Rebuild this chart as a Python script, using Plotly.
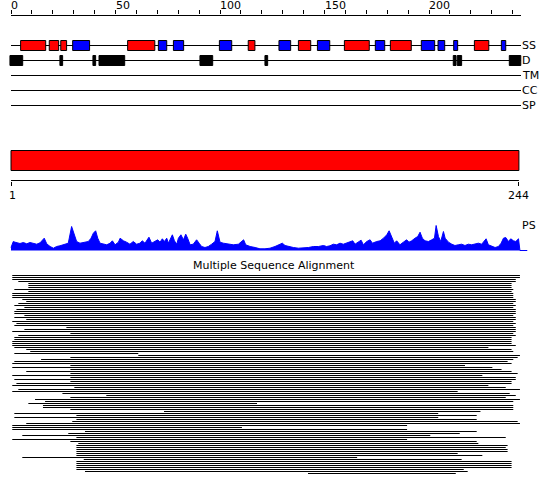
import plotly.graph_objects as go

# ---------------- data ----------------
seq_len = 244
top_tick_vals = list(range(0, 241, 10))
top_label_vals = [0, 50, 100, 150, 200]
bottom_tick_vals = [1, 244]
domain_start, domain_end = 1, 244

track_names = ["SS", "D", "TM", "CC", "SP"]

ss_type = ["H", "H", "H", "E", "H", "E", "E", "E", "H", "E",
           "H", "E", "H", "E", "H", "E", "E", "E", "H", "E"]
ss_start = [4.6, 18.3, 23.8, 29.5, 55.8, 70.5, 77.7, 99.7, 113.5, 128.2,
            137.5, 146.6, 159.5, 174.3, 181.5, 196.3, 204.3, 211.8, 221.7, 234.6]
ss_end = [16.6, 22.8, 26.6, 37.6, 68.8, 74.5, 82.6, 105.6, 116.7, 133.8,
          143.4, 152.5, 171.4, 178.8, 191.5, 202.7, 207.5, 213.7, 228.6, 236.7]

dis_start = [-0.5, 23.4, 39.2, 42.1, 90.4, 121.5, 211.6, 213.5, 238.4]
dis_end = [5.6, 24.7, 40.5, 54.4, 96.5, 122.8, 212.9, 215.6, 243.9]

ps_pos = [0.0, 1.1, 1.9, 4.3, 5.9, 7.5, 9.1, 10.7, 12.3, 13.9, 15.9, 17.1, 18.7, 20.3, 21.8,
          23.4, 25.0, 26.6, 27.4, 29.0, 30.6, 31.4, 33.0, 35.4, 37.0, 38.3, 39.4, 40.5, 41.5,
          42.6, 44.2, 45.8, 47.4, 48.5, 49.8, 51.4, 52.2, 53.8, 55.3, 56.9, 58.5, 60.1, 61.7,
          62.8, 64.1, 66.0, 67.3, 68.9, 70.2, 71.3, 72.4, 73.4, 74.5, 75.3, 76.1, 77.2, 78.2,
          79.3, 80.1, 81.3, 82.5, 83.6, 84.5, 85.7, 87.2, 88.8, 90.0, 91.2, 92.8, 94.4, 96.0,
          97.6, 98.7, 100.0, 101.6, 104.0, 106.4, 108.8, 110.4, 111.3, 112.3, 114.4, 116.8,
          119.1, 121.5, 123.9, 126.3, 128.2, 129.8, 131.1, 132.7, 135.1, 137.5, 139.9, 142.3,
          144.7, 147.1, 149.5, 151.0, 152.6, 154.2, 155.8, 157.4, 159.0, 160.6, 162.2, 163.5,
          164.6, 166.2, 167.5, 168.6, 170.2, 171.8, 172.9, 175.0, 176.6, 178.2, 179.8, 180.9,
          182.2, 183.4, 184.5, 186.1, 187.7, 189.3, 190.4, 191.7, 193.3, 194.6, 195.7, 196.8,
          198.1, 199.7, 201.3, 202.6, 203.4, 204.5, 205.6, 206.9, 207.7, 209.3, 210.9, 212.4,
          214.0, 215.6, 217.2, 218.8, 220.4, 222.0, 223.6, 225.2, 227.3, 228.4, 230.0, 231.6,
          233.2, 234.5, 235.6, 236.7, 238.0, 239.1, 240.4, 241.5, 242.8, 243.5, 247.0]
ps_val = [3.0, 9.0, 8.3, 7.0, 8.0, 6.7, 8.0, 7.0, 6.3, 7.7, 12.3, 6.7, 4.0, 2.3, 4.0,
          4.7, 5.7, 7.3, 7.3, 24.0, 14.0, 9.0, 7.3, 8.3, 9.0, 12.3, 17.3, 19.7, 12.3,
          7.3, 6.3, 5.7, 7.3, 9.7, 5.7, 8.3, 12.3, 9.7, 8.3, 6.3, 9.0, 6.3, 7.3,
          9.7, 7.3, 13.3, 7.3, 9.0, 10.7, 8.3, 11.7, 9.0, 12.3, 7.3, 10.7, 15.7, 9.7,
          6.3, 12.3, 15.7, 10.7, 16.3, 12.3, 5.7, 6.3, 10.7, 7.3, 4.0, 3.0, 4.0, 6.3,
          9.0, 19.7, 8.3, 7.3, 6.3, 5.7, 6.3, 9.0, 10.7, 5.7, 4.0, 3.0,
          1.7, 1.7, 2.3, 4.0, 5.7, 7.3, 5.0, 4.0, 3.0, 2.3, 2.3, 3.0,
          4.0, 4.0, 5.0, 4.0, 4.7, 6.3, 5.7, 7.3, 6.3, 7.3, 9.0, 9.7,
          6.3, 9.0, 10.3, 5.7, 9.0, 10.7, 7.3, 9.0, 9.7, 12.3, 15.7, 19.7,
          12.3, 7.3, 9.7, 5.7, 8.3, 10.7, 8.3, 9.7, 12.3, 14.0, 18.3, 12.3,
          9.7, 9.0, 10.7, 12.3, 25.0, 14.0, 9.0, 19.0, 12.3, 8.3, 6.3, 5.0,
          5.7, 6.3, 5.0, 6.3, 5.7, 6.3, 7.3, 6.3, 11.7, 5.7, 4.0, 3.0,
          4.0, 7.3, 12.3, 13.0, 9.0, 11.7, 9.7, 9.0, 11.7, 0.0, 0.0]

msa_start = [0.6, 0.6, 0.6, 3.5, 8.3, 8.3, 8.3, 1.6, 8.3, 0.6,
             0.6, 0.6, 5.4, 7.3, 3.5, 1.6, 6.4, 2.6, 1.6, 1.6,
             6.4, 1.6, 7.3, 0.6, 2.6, 1.6, 26.5, 6.4, 0.6, 28.4,
             3.5, 1.6, 1.6, 0.6, 0.6, 0.6, 1.6, 7.3, 9.2, 1.6,
             60.9, 28.4, 14.4, 1.6, 0.6, 28.4, 0.6, 28.4, 7.3,
             28.4, 0.6, 28.4, 1.6, 28.4, 2.6, 0.6, 30.3, 3.5, 0.6,
             24.6, 45.6, 28.4, 11.5, 16.3, 8.3, 15.3, 15.3, 28.4, 73.2,
             1.6, 31.3, 1.6, 31.3, 29.3, 7.3, 0.6, 0.6, 0.6, 35.4,
             27.4, 5.4, 31.3, 0.6, 28.4, 32.2, 31.3, 31.3, 31.3, 31.3,
             31.3, 31.3, 5.4, 34.8, 31.3, 31.3, 31.3, 31.3, 31.3, 35.4,
             142.1]
msa_end = [243.5, 243.5, 241.5, 241.5, 239.5, 239.5, 239.5, 240.3, 239.5, 240.3,
           240.3, 240.3, 241.5, 241.5, 240.3, 241.5, 240.3, 241.5, 241.5, 241.5,
           240.3, 241.5, 241.5, 240.3, 241.5, 240.3, 241.5, 241.5, 241.5, 240.3,
           241.5, 239.5, 239.5, 239.5, 239.5, 241.5, 228.4, 239.5, 240.3, 60.9,
           243.5, 242.4, 240.3, 237.6, 239.5, 217.2, 230.3, 234.7, 239.5,
           242.4, 225.5, 241.5, 241.5, 239.5, 239.5, 228.4, 236.7, 243.5, 213.7,
           238.6, 241.5, 236.7, 243.5, 240.3, 117.7, 240.3, 240.3, 240.3, 224.6,
           204.4, 222.8, 204.4, 222.8, 242.4, 243.5, 189.5, 110.5, 189.5, 222.8,
           214.7, 200.6, 236.7, 189.5, 222.8, 223.6, 237.6, 236.7, 237.6, 237.6,
           213.7, 225.5, 165.6, 215.6, 239.5, 239.5, 239.5, 239.5, 216.6, 218.5,
           212.8]

# ---------------- geometry (pixels) ----------------
W, H = 550, 495
TOP = 15
PX0 = 11.0                 # pixel of residue 0
PXR = 510.0 / seq_len      # pixels per residue
x_range = [-PX0 / PXR, (W - PX0) / PXR]
x2_range = [x_range[0] + 1, x_range[1] + 1]
plot_h = H - TOP


def dom(px_top, px_bot):
    return [(H - px_bot) / plot_h, (H - px_top) / plot_h]


def py(px):
    return (H - px) / plot_h


track_y = [45.5, 60.5, 75.5, 90.5, 105.5]
FONT = "DejaVu Sans"
colors = {"H": "#ff0000", "E": "#0000ff"}

fig = go.Figure()

# top ruler line
fig.add_trace(go.Scatter(x=[0, seq_len], y=[TOP + 0.5, TOP + 0.5], mode="lines",
                         line=dict(color="black", width=1), xaxis="x", yaxis="y",
                         hoverinfo="skip", showlegend=False))
# track lines
for ty in track_y:
    fig.add_trace(go.Scatter(x=[0, seq_len], y=[ty, ty], mode="lines",
                             line=dict(color="black", width=1), xaxis="x", yaxis="y",
                             hoverinfo="skip", showlegend=False))

shapes = []
for t, s, e in zip(ss_type, ss_start, ss_end):
    shapes.append(dict(type="rect", xref="x", yref="y", x0=s, x1=e,
                       y0=track_y[0] - 5, y1=track_y[0] + 5,
                       fillcolor=colors[t], line=dict(color="black", width=1)))
for s, e in zip(dis_start, dis_end):
    shapes.append(dict(type="rect", xref="x", yref="y", x0=s, x1=e,
                       y0=track_y[1] - 5, y1=track_y[1] + 5,
                       fillcolor="black", line=dict(color="black", width=1)))
# domain bar
shapes.append(dict(type="rect", xref="x2", yref="y", x0=domain_start, x1=domain_end,
                   y0=150.5, y1=170.5, fillcolor="#ff0000",
                   line=dict(color="black", width=1)))

# bottom ruler line
fig.add_trace(go.Scatter(x=[domain_start, domain_end], y=[0, 0], mode="lines",
                         line=dict(color="black", width=1), xaxis="x2", yaxis="y4",
                         hoverinfo="skip", showlegend=False))

# PS profile
fig.add_trace(go.Scatter(x=ps_pos, y=ps_val, mode="lines", fill="tozeroy",
                         fillcolor="#0000ff", line=dict(color="#0000ff", width=1),
                         xaxis="x", yaxis="y2", hoverinfo="skip", showlegend=False))

# MSA
mx, my = [], []
for i, (s, e) in enumerate(zip(msa_start, msa_end)):
    mx += [s, e, None]
    my += [i, i, None]
fig.add_trace(go.Scatter(x=mx, y=my, mode="lines", line=dict(color="black", width=1),
                         xaxis="x", yaxis="y3", hoverinfo="skip", showlegend=False))

tf = dict(family=FONT, size=11, color="black")
annotations = []
for v in top_label_vals:
    annotations.append(dict(x=v, y=py(5.5), xref="x", yref="paper", text=str(v),
                            showarrow=False, xanchor="left", yanchor="middle", xshift=-2,
                            font=tf))
for name, ty in zip(track_names, track_y):
    annotations.append(dict(x=seq_len, y=ty, xref="x", yref="y", text=name,
                            showarrow=False, xanchor="left", yanchor="middle", xshift=-1,
                            font=tf))
annotations.append(dict(x=seq_len, y=225.5, xref="x", yref="y", text="PS",
                        showarrow=False, xanchor="left", yanchor="middle", xshift=-1,
                        font=tf))
for v in bottom_tick_vals:
    annotations.append(dict(x=v, y=195, xref="x2", yref="y", text=str(v),
                            showarrow=False, xanchor="center", yanchor="middle",
                            xshift=1 if v == bottom_tick_vals[0] else 0,
                            font=tf))
annotations.append(dict(x=0.498, y=265.5, xref="paper", yref="y",
                        text="Multiple Sequence Alignment", showarrow=False,
                        xanchor="center", yanchor="middle", font=tf))

n_rows = len(msa_start)
fig.update_layout(
    width=W, height=H,
    margin=dict(l=0, r=0, t=TOP, b=0, pad=0),
    paper_bgcolor="white", plot_bgcolor="rgba(0,0,0,0)",
    showlegend=False,
    shapes=shapes, annotations=annotations,
    xaxis=dict(range=x_range, domain=[0, 1], anchor="y", side="top",
               showgrid=False, zeroline=False, showline=False,
               ticks="outside", tickvals=top_tick_vals, ticklen=4, tickwidth=1,
               tickcolor="black", showticklabels=False, fixedrange=True),
    xaxis2=dict(range=x2_range, domain=[0, 1], anchor="y4", side="bottom",
                showgrid=False, zeroline=False, showline=False,
                ticks="outside", tickvals=bottom_tick_vals, ticklen=4, tickwidth=1,
                tickcolor="black", showticklabels=False, fixedrange=True),
    yaxis=dict(range=[H, TOP], domain=[0, 1], visible=False, fixedrange=True),
    yaxis2=dict(range=[-1, 34.5], domain=dom(216, 251.5), visible=False,
                anchor="x", fixedrange=True),
    yaxis3=dict(range=[n_rows - 0.5, -0.5], domain=dom(274.5, 274.5 + 2 * n_rows),
                visible=False, anchor="x", fixedrange=True),
    yaxis4=dict(range=[-0.5, 4.5], domain=dom(176, 181), visible=False,
                anchor="x2", fixedrange=True),
)

fig.write_html("out.html", config={"displayModeBar": False},
               post_script="document.body.style.margin='0';document.body.style.padding='0';"
                           "document.body.style.overflow='hidden';")
